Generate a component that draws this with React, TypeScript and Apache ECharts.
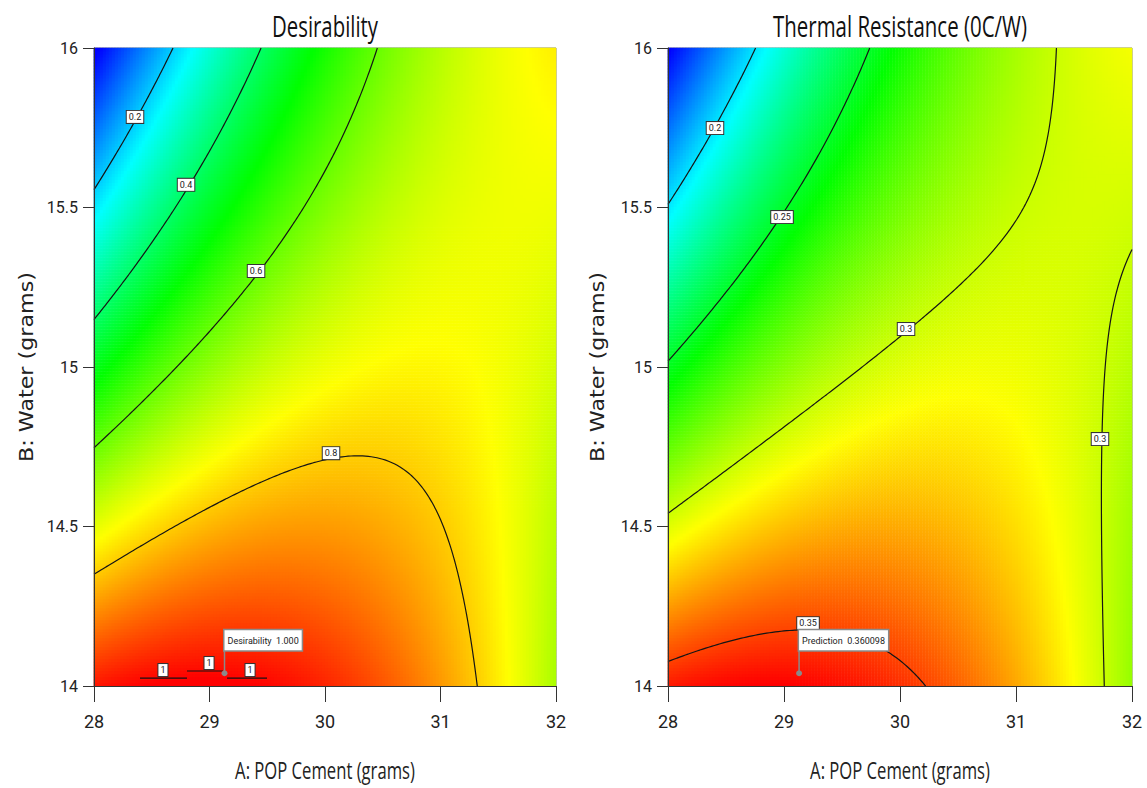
import React, { useEffect, useRef } from 'react';
import * as echarts from 'echarts';

// ---------- data ----------
const aRange = [28, 32]; // A: POP Cement (grams)
const bRange = [14, 16]; // B: Water (grams)
const aTickStep = 1;
const bTickStep = 0.5;

// quadratic response-surface coefficients (coded units a=(A-30)/2, b=B-15)
// order: [const, a, b, a*b, a^2, b^2]
const desirabilityCoef = [0.7343, 0.1167, -0.2234, 0.2734, -0.1439, 0.0081];
const thermalCoef = [0.3044, 0.022, -0.0467, 0.0567, -0.0305, 0.0031];

const desirabilityLevels = [0.2, 0.4, 0.6, 0.8];
const thermalLevels = [0.2, 0.25, 0.3, 0.35];

// contour label boxes: [A, B, text]
const desirabilityLabels: [number, number, string][] = [
  [28.355, 15.784, '0.2'],
  [28.797, 15.571, '0.4'],
  [29.403, 15.301, '0.6'],
  [30.052, 14.73, '0.8'],
  [28.597, 14.05, '1'],
  [28.996, 14.072, '1'],
  [29.351, 14.05, '1'],
];
const thermalLabels: [number, number, string][] = [
  [28.405, 15.749, '0.2'],
  [28.983, 15.47, '0.25'],
  [30.052, 15.119, '0.3'],
  [31.724, 14.774, '0.3'],
  [29.207, 14.197, '0.35'],
];
// flat desirability = 1 pieces at the bottom: [A start, A end, B]
const desirabilityOneSegments: [number, number, number][] = [
  [28.398, 28.805, 14.025],
  [28.805, 29.117, 14.047],
  [29.152, 29.498, 14.025],
];
const optimumPoint = [29.13, 14.04];
const desirabilityFlag = 'Desirability  1.000';
const thermalFlag = 'Prediction  0.360098';

const titles = ['Desirability', 'Thermal Resistance (0C/W)'];
const xName = 'A: POP Cement (grams)';
const yName = 'B: Water (grams)';

// ---------- helpers ----------
const SANS = 'Roboto, "Liberation Sans", Arial, sans-serif';
const TITLE_FONT = '"Open Sans", Roboto, sans-serif';
const WIDE = '"DejaVu Sans", Verdana, sans-serif';
const COLORS = ['#0000ff', '#00ffff', '#00ff00', '#ffff00', '#ff0000'];

const NAS = [154, 155];
const NB = 213;
const NC = 160;

function measure(text: string, font: string) {
  const ctx = document.createElement('canvas').getContext('2d');
  if (!ctx) return 0;
  ctx.font = font;
  return ctx.measureText(text).width;
}
function fitScale(text: string, size: number, family: string, target: number) {
  const w = measure(text, `${size}px ${family}`);
  return w > 0 ? target / w : 1;
}

function model(coef: number[], A: number, B: number) {
  const a = (A - (aRange[0] + aRange[1]) / 2) / ((aRange[1] - aRange[0]) / 2);
  const b = (B - (bRange[0] + bRange[1]) / 2) / ((bRange[1] - bRange[0]) / 2);
  return coef[0] + coef[1] * a + coef[2] * b + coef[3] * a * b + coef[4] * a * a + coef[5] * b * b;
}

function heatData(fn: (A: number, B: number) => number, NA: number) {
  const data: number[][] = [];
  let mn = Infinity;
  let mx = -Infinity;
  for (let j = 0; j < NB; j++) {
    const B = bRange[0] + ((j + 0.5) * (bRange[1] - bRange[0])) / NB;
    for (let i = 0; i < NA; i++) {
      const A = aRange[0] + ((i + 0.5) * (aRange[1] - aRange[0])) / NA;
      const v = fn(A, B);
      mn = Math.min(mn, v);
      mx = Math.max(mx, v);
      data.push([i, j, v]);
    }
  }
  return { data, mn, mx };
}

function contour(fn: (A: number, B: number) => number, level: number): number[][][] {
  const xs: number[] = [];
  const ys: number[] = [];
  for (let i = 0; i <= NC; i++) xs.push(aRange[0] + (i * (aRange[1] - aRange[0])) / NC);
  for (let j = 0; j <= NC; j++) ys.push(bRange[0] + (j * (bRange[1] - bRange[0])) / NC);
  const v: number[][] = [];
  for (let j = 0; j <= NC; j++) {
    const row: number[] = [];
    for (let i = 0; i <= NC; i++) row.push(fn(xs[i], ys[j]) - level);
    v.push(row);
  }
  const pts = new Map<string, number[]>();
  const segs: [string, string][] = [];
  const adj = new Map<string, number[]>();
  const edgePoint = (key: string, x0: number, y0: number, v0: number, x1: number, y1: number, v1: number) => {
    if (!pts.has(key)) {
      const t = v0 / (v0 - v1);
      pts.set(key, [x0 + t * (x1 - x0), y0 + t * (y1 - y0)]);
    }
    return key;
  };
  const addSeg = (k1: string, k2: string) => {
    const idx = segs.length;
    segs.push([k1, k2]);
    for (const k of [k1, k2]) {
      if (!adj.has(k)) adj.set(k, []);
      adj.get(k)!.push(idx);
    }
  };
  for (let j = 0; j < NC; j++) {
    for (let i = 0; i < NC; i++) {
      const v00 = v[j][i];
      const v10 = v[j][i + 1];
      const v11 = v[j + 1][i + 1];
      const v01 = v[j + 1][i];
      const s00 = v00 >= 0;
      const s10 = v10 >= 0;
      const s11 = v11 >= 0;
      const s01 = v01 >= 0;
      const e: Record<string, string | null> = { bottom: null, right: null, top: null, left: null };
      if (s00 !== s10) e.bottom = edgePoint(`h${i},${j}`, xs[i], ys[j], v00, xs[i + 1], ys[j], v10);
      if (s10 !== s11) e.right = edgePoint(`v${i + 1},${j}`, xs[i + 1], ys[j], v10, xs[i + 1], ys[j + 1], v11);
      if (s01 !== s11) e.top = edgePoint(`h${i},${j + 1}`, xs[i], ys[j + 1], v01, xs[i + 1], ys[j + 1], v11);
      if (s00 !== s01) e.left = edgePoint(`v${i},${j}`, xs[i], ys[j], v00, xs[i], ys[j + 1], v01);
      const found = ['bottom', 'right', 'top', 'left'].filter((k) => e[k] !== null);
      if (found.length === 2) {
        addSeg(e[found[0]]!, e[found[1]]!);
      } else if (found.length === 4) {
        const c = (v00 + v10 + v11 + v01) / 4 >= 0;
        if (c === s00) {
          addSeg(e.bottom!, e.right!);
          addSeg(e.top!, e.left!);
        } else {
          addSeg(e.bottom!, e.left!);
          addSeg(e.right!, e.top!);
        }
      }
    }
  }
  const used = new Array(segs.length).fill(false);
  const lines: number[][][] = [];
  for (let s = 0; s < segs.length; s++) {
    if (used[s]) continue;
    used[s] = true;
    const line = [segs[s][0], segs[s][1]];
    for (const dir of [1, -1]) {
      let cur = dir === 1 ? line[line.length - 1] : line[0];
      for (;;) {
        const next = (adj.get(cur) || []).find((k) => !used[k]);
        if (next === undefined) break;
        used[next] = true;
        const other = segs[next][0] === cur ? segs[next][1] : segs[next][0];
        if (dir === 1) line.push(other);
        else line.unshift(other);
        cur = other;
      }
    }
    lines.push(line.map((k) => pts.get(k)!));
  }
  return lines;
}

function buildOption() {
  const dFn = (A: number, B: number) => Math.max(0, Math.min(1, model(desirabilityCoef, A, B)));
  const rFn = (A: number, B: number) => model(thermalCoef, A, B);
  const dHeat = heatData(dFn, NAS[0]);
  const rHeat = heatData(rFn, NAS[1]);

  const dLines: { coords: number[][] }[] = [];
  desirabilityLevels.forEach((l) => contour(dFn, l).forEach((c) => dLines.push({ coords: c })));
  desirabilityOneSegments.forEach((s) => dLines.push({ coords: [[s[0], s[2]], [s[1], s[2]]] }));
  const rLines: { coords: number[][] }[] = [];
  thermalLevels.forEach((l) => contour(rFn, l).forEach((c) => rLines.push({ coords: c })));

  const grids = [
    { left: 94, top: 48, width: 462, height: 638 },
    { left: 668, top: 48, width: 464, height: 638 },
  ];
  const catB = Array.from({ length: NB }, (_, i) => String(i));

  const xAxis: any[] = [];
  const yAxis: any[] = [];
  grids.forEach((_, g) => {
    xAxis.push({
      type: 'value',
      gridIndex: g,
      min: aRange[0],
      max: aRange[1],
      interval: aTickStep,
      position: 'bottom',
      axisLine: { show: true, onZero: false, lineStyle: { color: '#333', width: 1 } },
      axisTick: { show: true, length: 16, lineStyle: { color: '#333', width: 1 } },
      axisLabel: { margin: 26, fontSize: 18, fontFamily: SANS, color: '#222' },
      splitLine: { show: false },
      z: 10,
    });
    xAxis.push({
      type: 'category',
      gridIndex: g,
      data: Array.from({ length: NAS[g] }, (_, i) => String(i)),
      show: false,
    });
    yAxis.push({
      type: 'value',
      gridIndex: g,
      min: bRange[0],
      max: bRange[1],
      interval: bTickStep,
      position: 'left',
      axisLine: { show: true, onZero: false, lineStyle: { color: '#333', width: 1 } },
      axisTick: { show: true, length: 11, lineStyle: { color: '#333', width: 1 } },
      axisLabel: { margin: 16, fontSize: 16, fontFamily: SANS, color: '#222' },
      splitLine: { show: false },
      z: 10,
    });
    yAxis.push({ type: 'category', gridIndex: g, data: catB, show: false });
  });

  const heatSeries = (data: number[][], g: number) => ({
    type: 'heatmap',
    xAxisIndex: g * 2 + 1,
    yAxisIndex: g * 2 + 1,
    data,
    progressive: 0,
    itemStyle: { borderWidth: 0 },
    emphasis: { disabled: true },
    silent: true,
    z: 1,
  });
  const lineSeries = (data: { coords: number[][] }[], g: number) => ({
    type: 'lines',
    coordinateSystem: 'cartesian2d',
    xAxisIndex: g * 2,
    yAxisIndex: g * 2,
    polyline: true,
    data,
    lineStyle: { color: '#151515', width: 1.2, opacity: 1 },
    silent: true,
    z: 3,
  });
  const labelSeries = (labels: [number, number, string][], g: number) => ({
    type: 'scatter',
    xAxisIndex: g * 2,
    yAxisIndex: g * 2,
    data: labels.map((l) => [l[0], l[1], l[2]]),
    symbolSize: 1,
    itemStyle: { color: 'transparent', opacity: 1 },
    silent: true,
    z: 5,
    label: {
      show: true,
      position: 'inside',
      formatter: (p: any) => p.value[2],
      backgroundColor: '#ffffff',
      borderColor: '#333',
      borderWidth: 1,
      padding: [2, 2, 1, 2],
      fontSize: 9,
      fontFamily: SANS,
      color: '#222',
      opacity: 1,
    },
  });
  const poleSeries = (g: number) => ({
    type: 'line',
    xAxisIndex: g * 2,
    yAxisIndex: g * 2,
    data: [
      [optimumPoint[0], optimumPoint[1]],
      [optimumPoint[0], optimumPoint[1] + 0.072],
    ],
    symbol: 'none',
    lineStyle: { color: '#8a8a8a', width: 1.5 },
    silent: true,
    z: 6,
  });
  const flagSeries = (text: string, g: number) => ({
    type: 'scatter',
    xAxisIndex: g * 2,
    yAxisIndex: g * 2,
    data: [[optimumPoint[0], optimumPoint[1]]],
    symbol: 'circle',
    symbolSize: 6,
    itemStyle: { color: '#8a8a8a', opacity: 1 },
    silent: true,
    z: 7,
    label: {
      show: true,
      position: [3, -20],
      align: 'left',
      verticalAlign: 'bottom',
      formatter: text,
      backgroundColor: '#ffffff',
      borderColor: '#8a8a8a',
      borderWidth: 1.5,
      padding: [6, 3, 5, 3],
      fontSize: 9,
      fontFamily: SANS,
      color: '#222',
      opacity: 1,
    },
  });

  const graphic: any[] = [];
  const centers = [325, 900];
  const titleWidths = [106, 254];
  const yNameX = [27, 598];
  const xNameScale = fitScale(xName, 23, TITLE_FONT, 180);
  const yNameScale = fitScale(yName, 19, WIDE, 190);
  centers.forEach((cx, g) => {
    graphic.push({
      type: 'text',
      x: cx,
      y: 26,
      scaleX: fitScale(titles[g], 30, TITLE_FONT, titleWidths[g]),
      style: { text: titles[g], fontSize: 30, fontFamily: TITLE_FONT, fill: '#111', align: 'center', verticalAlign: 'middle' },
    });
    graphic.push({
      type: 'text',
      x: cx,
      y: 770,
      scaleX: xNameScale,
      style: { text: xName, fontSize: 23, fontFamily: TITLE_FONT, fill: '#222', align: 'center', verticalAlign: 'middle' },
    });
    graphic.push({
      type: 'text',
      x: yNameX[g],
      y: 367,
      rotation: Math.PI / 2,
      scaleX: yNameScale,
      style: { text: yName, fontSize: 19, fontFamily: WIDE, fill: '#222', align: 'center', verticalAlign: 'middle' },
    });
  });

  return {
    animation: false,
    backgroundColor: '#fff',
    grid: grids.map((g) => ({ ...g, show: true, borderColor: '#808080', borderWidth: 1, backgroundColor: 'transparent' })),
    xAxis,
    yAxis,
    visualMap: [
      { type: 'continuous', show: false, seriesIndex: 0, dimension: 2, min: 0, max: 1, inRange: { color: COLORS } },
      { type: 'continuous', show: false, seriesIndex: 1, dimension: 2, min: rHeat.mn, max: rHeat.mx, inRange: { color: COLORS } },
    ],
    series: [
      heatSeries(dHeat.data, 0),
      heatSeries(rHeat.data, 1),
      lineSeries(dLines, 0),
      lineSeries(rLines, 1),
      labelSeries(desirabilityLabels, 0),
      labelSeries(thermalLabels, 1),
      poleSeries(0),
      poleSeries(1),
      flagSeries(desirabilityFlag, 0),
      flagSeries(thermalFlag, 1),
    ],
    graphic,
  };
}

export default function App() {
  const ref = useRef<HTMLDivElement>(null);
  useEffect(() => {
    const chart = echarts.init(ref.current!, null, { renderer: 'svg' });
    chart.setOption(buildOption() as any);
    return () => chart.dispose();
  }, []);
  return (
    <div
      ref={ref}
      style={{ position: 'fixed', left: 0, top: 0, width: 1147, height: 788, background: '#fff' }}
    />
  );
}
